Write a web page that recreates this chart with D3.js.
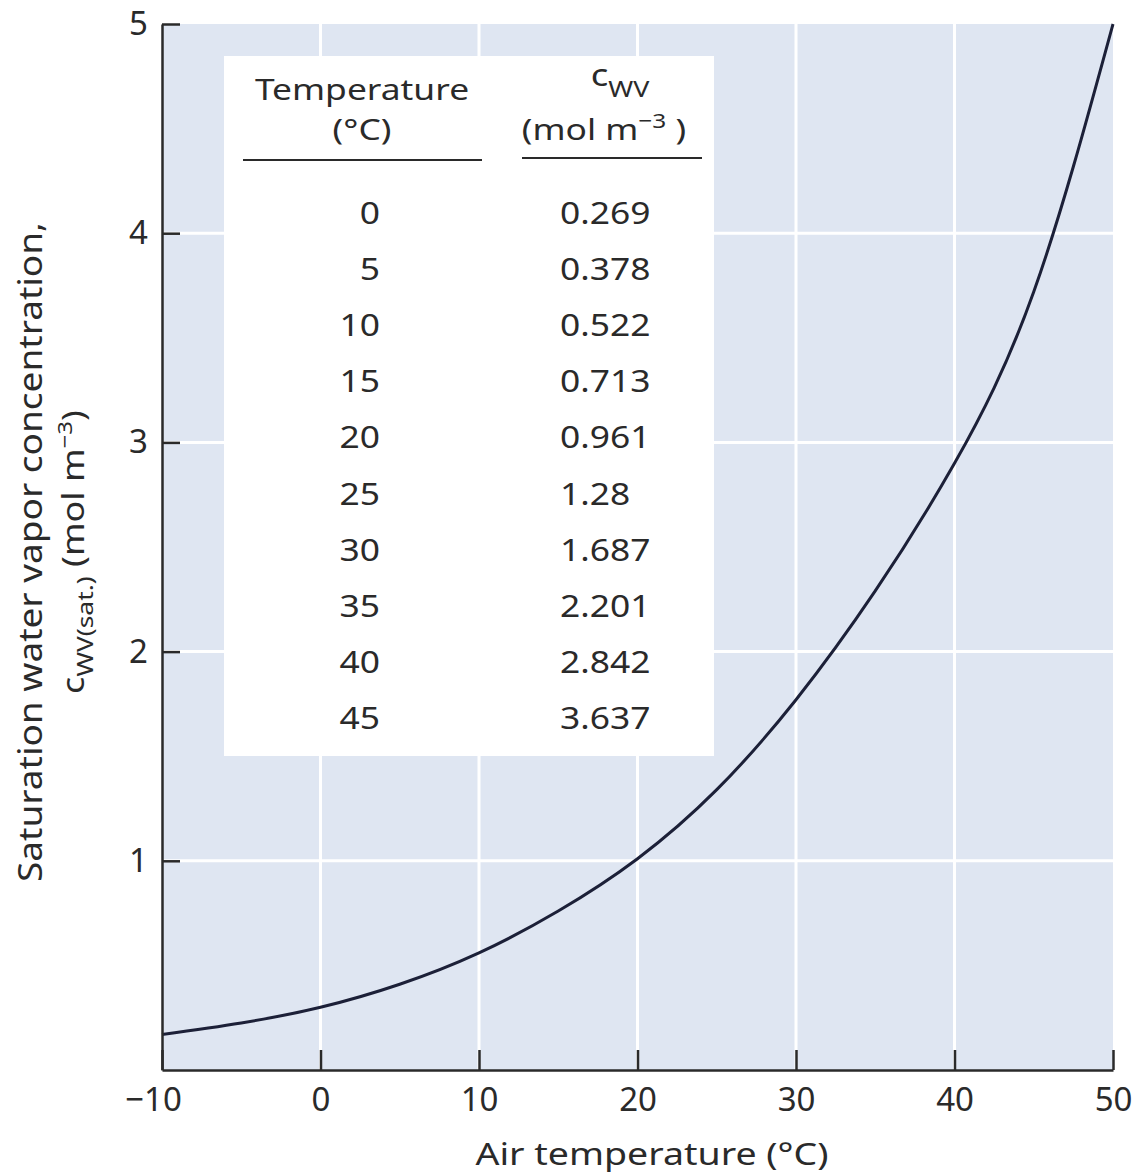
<!DOCTYPE html>
<html>
<head>
<meta charset="utf-8">
<script src="https://cdn.jsdelivr.net/npm/d3@7"></script>
<style>
  body { margin: 0; background: #fff; }
  text { font-family: "Noto Sans", sans-serif; fill: #2a2a2a; }
</style>
</head>
<body>
<svg id="chart" width="1133" height="1175"></svg>
<script>
// axis ticks
var xTicks = [-10, 0, 10, 20, 30, 40, 50];
var yTicks = [1, 2, 3, 4, 5];
var xGrid = [0, 10, 20, 30, 40];
var yGrid = [1, 2, 3, 4];

// curve
var curveTemp = [-10, -5, 0, 5, 10, 15, 20, 25, 30, 35, 40, 45, 50];
var curveConc = [0.17, 0.225, 0.30, 0.41, 0.56, 0.76, 1.01, 1.34, 1.77, 2.29, 2.90, 3.72, 5.0];

// inset table
var tableTemp = [0, 5, 10, 15, 20, 25, 30, 35, 40, 45];
var tableConc = [0.269, 0.378, 0.522, 0.713, 0.961, 1.28, 1.687, 2.201, 2.842, 3.637];

var svg = d3.select("#chart");

var x = d3.scaleLinear().domain([-10, 50]).range([162, 1113]);
var y = d3.scaleLinear().domain([0, 5]).range([1070, 24]);

// the book face is a bit wider than Noto Sans
function stretch(sel, k) {
  sel.each(function() {
    var w = this.getComputedTextLength();
    d3.select(this).attr("textLength", w * k).attr("lengthAdjust", "spacingAndGlyphs");
  });
}

// plot background
svg.append("rect")
  .attr("x", x(-10)).attr("y", y(5))
  .attr("width", x(50) - x(-10)).attr("height", y(0) - y(5))
  .attr("fill", "#dfe6f2");

// white gridlines
svg.append("g").selectAll("line").data(xGrid).enter().append("line")
  .attr("x1", function(d) { return x(d); }).attr("x2", function(d) { return x(d); })
  .attr("y1", y(0)).attr("y2", y(5))
  .attr("stroke", "#fff").attr("stroke-width", 3);
svg.append("g").selectAll("line").data(yGrid).enter().append("line")
  .attr("y1", function(d) { return y(d); }).attr("y2", function(d) { return y(d); })
  .attr("x1", x(-10)).attr("x2", x(50))
  .attr("stroke", "#fff").attr("stroke-width", 3);

// table box
svg.append("rect")
  .attr("x", 224).attr("y", 56).attr("width", 490).attr("height", 700)
  .attr("fill", "#fff");

// curve
var line = d3.line()
  .x(function(d, i) { return x(curveTemp[i]); })
  .y(function(d) { return y(d); })
  .curve(d3.curveNatural);
svg.append("path")
  .datum(curveConc)
  .attr("d", line)
  .attr("fill", "none")
  .attr("stroke", "#1c2038")
  .attr("stroke-width", 3);

// axes
var xAxis = svg.append("g")
  .attr("transform", "translate(0," + y(0) + ")")
  .call(d3.axisBottom(x).tickValues(xTicks).tickSize(-20).tickSizeOuter(0).tickPadding(18));
var yAxis = svg.append("g")
  .attr("transform", "translate(" + x(-10) + ",0)")
  .call(d3.axisLeft(y).tickValues(yTicks).tickFormat(d3.format("d"))
    .tickSize(-18).tickSizeOuter(0).tickPadding(14));

[xAxis, yAxis].forEach(function(ax) {
  ax.selectAll("path, line").attr("stroke", "#2a2a2a").attr("stroke-width", 2.5);
  ax.selectAll("text").attr("font-size", 33).attr("font-family", null).attr("fill", null);
});
xAxis.selectAll(".tick text").filter(function(d) { return d < 0; }).attr("dx", -9);

// axis titles
svg.append("text")
  .attr("x", 652).attr("y", 1165)
  .attr("text-anchor", "middle").attr("font-size", 31)
  .attr("textLength", 353).attr("lengthAdjust", "spacingAndGlyphs")
  .text("Air temperature (\u00b0C)");

svg.append("text")
  .attr("transform", "translate(42,552) rotate(-90)")
  .attr("text-anchor", "middle").attr("font-size", 33)
  .attr("textLength", 660).attr("lengthAdjust", "spacingAndGlyphs")
  .text("Saturation water vapor concentration,");

var yt2 = svg.append("text")
  .attr("transform", "translate(84,552) rotate(-90)")
  .attr("text-anchor", "middle").attr("font-size", 30);
yt2.append("tspan").text("c");
yt2.append("tspan").attr("font-size", 22).attr("dy", 9).text("WV(sat.)");
yt2.append("tspan").attr("dy", -9).text(" (mol m");
yt2.append("tspan").attr("font-size", 20).attr("dy", -12).text("\u22123");
yt2.append("tspan").attr("dy", 12).text(")");
stretch(yt2, 1.2);

// table headers
var hd = svg.append("g");
hd.append("text").attr("x", 362).attr("y", 100)
  .attr("text-anchor", "middle").attr("font-size", 29).text("Temperature");
hd.append("text").attr("x", 362).attr("y", 140)
  .attr("text-anchor", "middle").attr("font-size", 29).text("(\u00b0C)");

var h2 = hd.append("text").attr("x", 620).attr("y", 86)
  .attr("text-anchor", "middle").attr("font-size", 30);
h2.append("tspan").text("c");
h2.append("tspan").attr("font-size", 22).attr("dy", 11).text("WV");

var h3 = hd.append("text").attr("x", 604).attr("y", 140)
  .attr("text-anchor", "middle").attr("font-size", 29);
h3.append("tspan").text("(mol m");
h3.append("tspan").attr("font-size", 20).attr("dy", -12).text("\u22123");
h3.append("tspan").attr("dy", 12).text(" )");
stretch(hd.selectAll("text"), 1.22);

svg.append("line").attr("x1", 243).attr("x2", 482).attr("y1", 160).attr("y2", 160)
  .attr("stroke", "#2a2a2a").attr("stroke-width", 2);
svg.append("line").attr("x1", 522).attr("x2", 702).attr("y1", 158).attr("y2", 158)
  .attr("stroke", "#2a2a2a").attr("stroke-width", 2);

// table rows
var rowY = d3.scalePoint().domain(d3.range(tableTemp.length)).range([224, 729]);

var c1 = svg.append("g").selectAll("text").data(tableTemp).enter().append("text")
  .attr("x", 380).attr("y", function(d, i) { return rowY(i); })
  .attr("text-anchor", "end").attr("font-size", 30)
  .text(function(d) { return d; });

var c2 = svg.append("g").selectAll("text").data(tableConc).enter().append("text")
  .attr("x", 560).attr("y", function(d, i) { return rowY(i); })
  .attr("text-anchor", "start").attr("font-size", 30)
  .text(function(d) { return String(d); });

stretch(c1, 1.18);
stretch(c2, 1.18);
</script>
</body>
</html>
